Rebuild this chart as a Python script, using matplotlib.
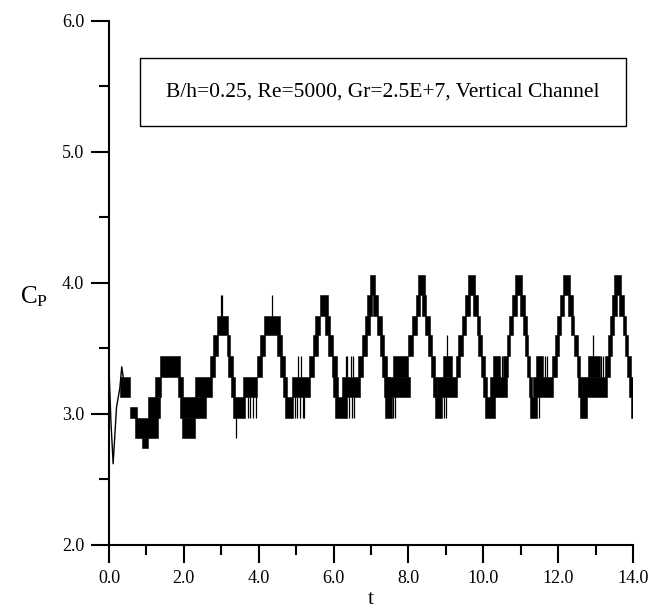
import numpy as np
import matplotlib
matplotlib.use("Agg")
import matplotlib.pyplot as plt
from matplotlib.patches import Rectangle

plt.rcParams["font.family"] = ["Liberation Serif", "DejaVu Serif"]

# start of the run: thin line before the signal locks onto the steps
init_t = [0.0, 0.05, 0.11, 0.2, 0.29, 0.34, 0.38]
init_cp = [3.35, 2.95, 2.62, 3.05, 3.2, 3.36, 3.28]

# quantised C_P: blocks where the signal flickers between two levels
blk_t0 = [0.29, 0.56, 0.69, 0.88, 1.04, 1.24, 1.36, 1.85, 1.90, 1.94, 2.30, 2.70, 2.78, 2.88,
          3.14, 3.18, 3.26, 3.31, 3.58, 3.95, 4.03, 4.14, 4.48, 4.57, 4.65, 4.70, 4.89,
          5.34, 5.45, 5.50, 5.64, 5.77, 5.85, 5.95, 5.98, 6.04, 6.22,
          6.65, 6.76, 6.84, 6.89, 6.97, 7.05, 7.16, 7.24, 7.29, 7.34, 7.37, 7.40, 7.60,
          7.99, 8.10, 8.20, 8.26, 8.35, 8.44, 8.52, 8.60, 8.66, 8.71, 8.76, 8.93,
          9.28, 9.33, 9.43, 9.51, 9.59, 9.72, 9.83, 9.86, 9.94, 9.99, 10.05, 10.18, 10.25, 10.53,
          10.63, 10.69, 10.77, 10.85, 10.98, 11.07, 11.11, 11.17, 11.21, 11.25, 11.33, 11.42,
          11.83, 11.92, 11.97, 12.05, 12.13, 12.26, 12.34, 12.42, 12.50, 12.53, 12.58, 12.64, 12.80,
          13.25, 13.33, 13.38, 13.44, 13.49, 13.63, 13.73, 13.79, 13.84, 13.89, 13.95]
blk_t1 = [0.56, 0.74, 1.32, 1.04, 1.36, 1.40, 1.90, 1.98, 2.60, 2.30, 2.74, 2.83, 2.91, 3.19,
          3.23, 3.31, 3.37, 3.63, 3.95, 4.08, 4.17, 4.57, 4.61, 4.70, 4.76, 4.92, 5.37,
          5.47, 5.58, 5.64, 5.86, 5.90, 5.98, 6.08, 6.12, 6.36, 6.71,
          6.79, 6.89, 6.97, 7.03, 7.11, 7.19, 7.29, 7.34, 7.43, 7.47, 7.56, 8.04, 7.99,
          8.12, 8.23, 8.31, 8.44, 8.48, 8.58, 8.63, 8.71, 8.76, 8.90, 9.30, 9.16,
          9.38, 9.46, 9.54, 9.64, 9.78, 9.86, 9.92, 9.97, 10.05, 10.10, 10.31, 10.63, 10.45, 10.66,
          10.71, 10.79, 10.90, 11.03, 11.11, 11.16, 11.19, 11.25, 11.30, 11.43, 11.86, 11.60,
          11.97, 12.01, 12.07, 12.15, 12.32, 12.39, 12.43, 12.53, 12.58, 12.64, 12.77, 13.30, 13.12,
          13.39, 13.44, 13.48, 13.57, 13.68, 13.76, 13.81, 13.87, 13.95, 14.0, 14.0]
blk_lo = [3.13, 2.97, 2.82, 2.74, 2.97, 3.13, 3.28, 3.13, 2.97, 2.82, 3.13, 3.28, 3.44, 3.60,
          3.44, 3.28, 3.13, 2.97, 3.13, 3.28, 3.44, 3.60, 3.44, 3.28, 3.13, 2.97, 3.13,
          3.28, 3.44, 3.60, 3.75, 3.60, 3.44, 3.28, 3.13, 2.97, 3.13,
          3.28, 3.44, 3.60, 3.75, 3.91, 3.75, 3.60, 3.44, 3.28, 3.13, 2.97, 3.13, 3.28,
          3.44, 3.60, 3.75, 3.91, 3.75, 3.60, 3.44, 3.28, 3.13, 2.97, 3.13, 3.28,
          3.28, 3.44, 3.60, 3.75, 3.91, 3.75, 3.60, 3.44, 3.28, 3.13, 2.97, 3.13, 3.28, 3.28,
          3.44, 3.60, 3.75, 3.91, 3.75, 3.60, 3.44, 3.28, 3.13, 2.97, 3.13, 3.28,
          3.28, 3.44, 3.60, 3.75, 3.91, 3.75, 3.60, 3.44, 3.28, 3.13, 2.97, 3.13, 3.28,
          3.28, 3.44, 3.60, 3.75, 3.91, 3.75, 3.60, 3.44, 3.28, 3.13, 2.97]
blk_hi = [3.28, 3.05, 2.97, 2.82, 3.13, 3.28, 3.44, 3.28, 3.13, 2.97, 3.28, 3.44, 3.60, 3.75,
          3.60, 3.44, 3.28, 3.13, 3.28, 3.44, 3.60, 3.75, 3.60, 3.44, 3.28, 3.13, 3.28,
          3.44, 3.60, 3.75, 3.91, 3.75, 3.60, 3.44, 3.28, 3.13, 3.28,
          3.44, 3.60, 3.75, 3.91, 4.06, 3.91, 3.75, 3.60, 3.44, 3.28, 3.13, 3.28, 3.44,
          3.60, 3.75, 3.91, 4.06, 3.91, 3.75, 3.60, 3.44, 3.28, 3.13, 3.28, 3.44,
          3.44, 3.60, 3.75, 3.91, 4.06, 3.91, 3.75, 3.60, 3.44, 3.28, 3.13, 3.28, 3.44, 3.44,
          3.60, 3.75, 3.91, 4.06, 3.91, 3.75, 3.60, 3.44, 3.28, 3.13, 3.28, 3.44,
          3.44, 3.60, 3.75, 3.91, 4.06, 3.91, 3.75, 3.60, 3.44, 3.28, 3.13, 3.28, 3.44,
          3.44, 3.60, 3.75, 3.91, 4.06, 3.91, 3.75, 3.60, 3.44, 3.28, 3.13]

# isolated spikes off the blocks
spk_t = [2.98, 3.03, 3.38, 3.72, 3.78, 3.85, 3.92, 4.35, 4.98, 5.03, 5.10, 5.17, 5.22, 5.05, 5.12,
         6.42, 6.48, 6.55, 6.32, 6.37, 6.47, 6.52, 7.60, 7.65, 8.95, 9.00, 9.02,
         10.50, 10.40, 11.50, 11.55, 11.65, 11.70, 12.92, 13.15, 13.20]
spk_lo = [3.75, 3.75, 2.82, 2.97, 2.97, 2.97, 2.97, 3.75, 2.97, 2.97, 2.97, 2.97, 2.97, 3.28, 3.28,
          2.97, 2.97, 2.97, 3.28, 3.28, 3.28, 3.28, 2.97, 2.97, 2.97, 2.97, 3.44,
          3.28, 3.13, 2.97, 3.28, 3.28, 3.28, 3.44, 3.28, 3.28]
spk_hi = [3.91, 3.91, 2.97, 3.13, 3.13, 3.13, 3.13, 3.91, 3.13, 3.13, 3.13, 3.13, 3.13, 3.44, 3.44,
          3.13, 3.13, 3.13, 3.44, 3.44, 3.44, 3.44, 3.13, 3.13, 3.13, 3.13, 3.60,
          3.44, 3.44, 3.13, 3.44, 3.44, 3.44, 3.60, 3.44, 3.44]

fig = plt.figure(figsize=(6.52, 6.12), dpi=100)
ax = fig.add_axes([0.1672, 0.1095, 0.8037, 0.8562])

ax.plot(init_t, init_cp, color="black", linewidth=1.0)
w = np.array(blk_t1) - np.array(blk_t0)
h = np.array(blk_hi) - np.array(blk_lo)
ax.bar(blk_t0, h, width=w, bottom=blk_lo, align="edge", color="black",
       edgecolor="black", linewidth=0.4)
ax.vlines(spk_t, spk_lo, spk_hi, color="black", linewidth=0.9)

ax.set_xlim(0, 14)
ax.set_ylim(2, 6)
ax.set_xticks(np.arange(0, 15, 2))
ax.set_xticks(np.arange(1, 14, 2), minor=True)
ax.set_yticks(np.arange(2, 7, 1))
ax.set_yticks(np.arange(2.5, 6, 1), minor=True)
ax.xaxis.set_major_formatter(matplotlib.ticker.FormatStrFormatter("%.1f"))
ax.yaxis.set_major_formatter(matplotlib.ticker.FormatStrFormatter("%.1f"))
ax.tick_params(which="major", length=13, width=1.5, direction="out", labelsize=13, pad=5)
ax.tick_params(which="minor", length=7, width=1.5, direction="out")
for s in ["top", "right"]:
    ax.spines[s].set_visible(False)
for s in ["left", "bottom"]:
    ax.spines[s].set_linewidth(1.5)

ax.set_xlabel("t", fontsize=15, labelpad=2)
fig.text(0.052, 0.515, r"$\mathregular{C_P}$", fontsize=18, ha="center", va="center")

# caption box
fig.patches.append(Rectangle((0.2147, 0.794), 0.745, 0.111, transform=fig.transFigure,
                             fill=False, edgecolor="black", linewidth=1.0))
fig.text(0.587, 0.8495, "B/h=0.25, Re=5000, Gr=2.5E+7, Vertical Channel", fontsize=15.5,
         ha="center", va="center")

fig.savefig("out.png", dpi=100)
